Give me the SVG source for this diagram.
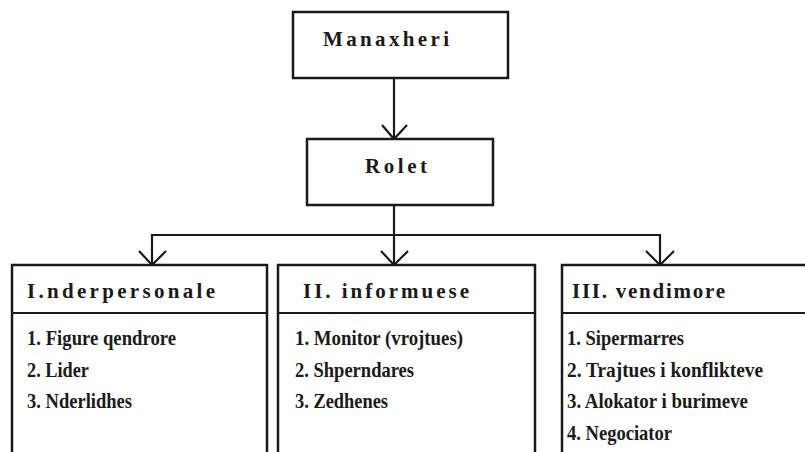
<svg xmlns="http://www.w3.org/2000/svg" width="805" height="452" viewBox="0 0 805 452">
<defs>
<style>
.box{fill:#fff;stroke:#1a1a1a;stroke-width:2.5}
.ln{fill:none;stroke:#1a1a1a;stroke-width:2.2}
text{font-family:'Liberation Serif','DejaVu Serif',serif;font-weight:bold;fill:#1a1a1a}
.hd{font-size:21px}
.it{font-size:21px}
</style>
</defs>
<rect width="805" height="452" fill="#fff"/>
<g id="connectors">
<path class="ln" d="M394,78 V139"/>
<path class="ln" d="M382,125 L394,139 L407,125"/>
<path class="ln" d="M394,205 V265 M152,265 V235 H660 V265"/>
<path class="ln" d="M139,251 L152,265 L166,251"/>
<path class="ln" d="M381,251 L394,265 L408,251"/>
<path class="ln" d="M646,251 L660,265 L674,251"/>
</g>
<g id="manaxheri">
<rect class="box" x="293" y="12" width="215" height="66"/>
<text class="hd" x="323" y="46" textLength="126">Manaxheri</text>
</g>
<g id="rolet">
<rect class="box" x="307" y="139" width="186" height="66"/>
<text class="hd" x="365" y="173" textLength="62">Rolet</text>
</g>
<g id="interpersonale">
<rect class="box" x="12" y="265" width="255" height="210"/>
<path class="ln" d="M12,313 H267"/>
<text class="hd" x="27" y="298" textLength="188">I.nderpersonale</text>
<text class="it" x="27" y="345" textLength="149" lengthAdjust="spacingAndGlyphs">1. Figure qendrore</text>
<text class="it" x="27" y="377" textLength="62" lengthAdjust="spacingAndGlyphs">2. Lider</text>
<text class="it" x="27" y="408" textLength="105" lengthAdjust="spacingAndGlyphs">3. Nderlidhes</text>
</g>
<g id="informuese">
<rect class="box" x="278" y="265" width="257" height="210"/>
<path class="ln" d="M278,313 H535"/>
<text class="hd" x="303" y="298" textLength="166">II. informuese</text>
<text class="it" x="295" y="345" textLength="168" lengthAdjust="spacingAndGlyphs">1. Monitor (vrojtues)</text>
<text class="it" x="295" y="377" textLength="119" lengthAdjust="spacingAndGlyphs">2. Shperndares</text>
<text class="it" x="295" y="408" textLength="93" lengthAdjust="spacingAndGlyphs">3. Zedhenes</text>
</g>
<g id="vendimore">
<rect class="box" x="562" y="265" width="260" height="210"/>
<path class="ln" d="M562,313 H805"/>
<text class="hd" x="572" y="298" textLength="153">III. vendimore</text>
<text class="it" x="567" y="345" textLength="117" lengthAdjust="spacingAndGlyphs">1. Sipermarres</text>
<text class="it" x="567" y="377" textLength="196" lengthAdjust="spacingAndGlyphs">2. Trajtues i konflikteve</text>
<text class="it" x="567" y="408" textLength="181" lengthAdjust="spacingAndGlyphs">3. Alokator i burimeve</text>
<text class="it" x="567" y="440" textLength="105" lengthAdjust="spacingAndGlyphs">4. Negociator</text>
</g>
</svg>
